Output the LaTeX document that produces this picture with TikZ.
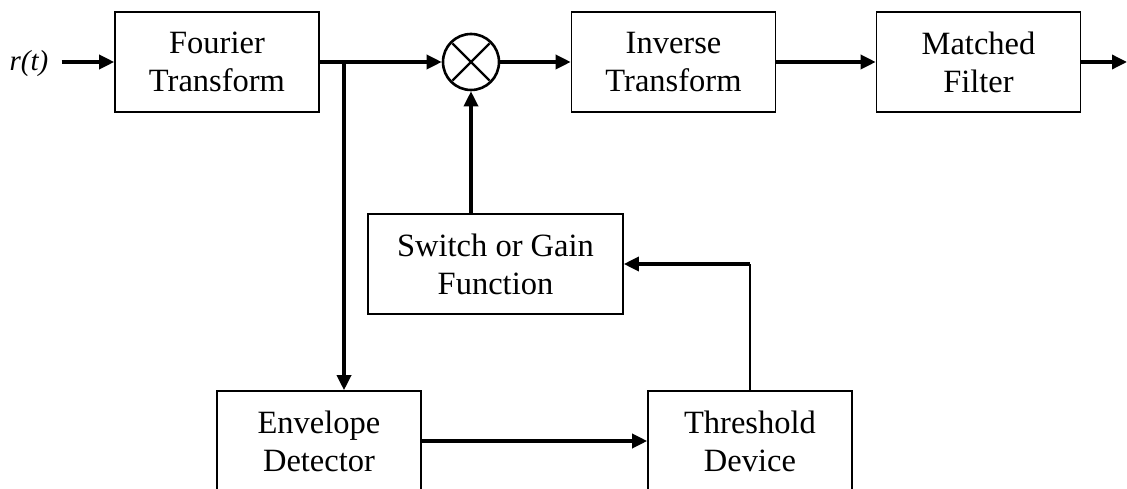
\documentclass[tikz,border=0pt]{standalone}
\usepackage{fontspec}
\setmainfont{Liberation Serif}
\usetikzlibrary{arrows.meta}
\tikzset{
  blk/.style={draw=black, line width=1.6pt, minimum width=204pt, minimum height=100pt,
              align=center, inner sep=0pt, font=\fontsize{32.5}{38}\selectfont},
  flow/.style={-{Triangle[length=15pt,width=14pt]}, line width=3.4pt},
  riser/.style={line width=2pt},
  mixer/.style={circle, draw=black, line width=2.6pt, minimum size=56pt, inner sep=0pt},
  sig/.style={font=\fontsize{29}{34}\selectfont\itshape, inner sep=1pt},
}

\begin{document}
\begin{tikzpicture}[x=1pt,y=1pt]
\useasboundingbox (0,0) rectangle (1127,-489);

% ========================= forward path ==================================
\node[sig]                             at (29,-64)    (rin)       {r(t)};
\node[blk]                             at (217,-62)   (fourier)   {Fourier\\Transform};
\node[mixer]                           at (471,-62)   (mult)      {};
\node[blk]                             at (673.5,-62) (inverse)   {Inverse\\Transform};
\node[blk]                             at (978.5,-62) (matched)   {Matched\\Filter};
\coordinate (split) at (344,-62);
\coordinate (out)   at (1127,-62);

\draw[line width=2.4pt, shorten >=3pt, shorten <=3pt] (mult.45) -- (mult.225);
\draw[line width=2.4pt, shorten >=3pt, shorten <=3pt] (mult.135) -- (mult.315);

\draw[flow, shorten <=12pt] (rin.east |- fourier.west) -- (fourier.west);
\draw[flow] (fourier) -- (mult);
\draw[flow] (mult) -- (inverse);
\draw[flow] (inverse) -- (matched);
\draw[flow] (matched) -- (out);

% ========================= gain control loop =============================
\node[blk, minimum width=255pt]        at (495.5,-264) (switch)    {Switch or Gain\\Function};
\node[blk]                             at (319,-441)   (envelope)  {Envelope\\Detector};
\node[blk]                             at (750,-441)   (threshold) {Threshold\\Device};
\coordinate (bend) at (threshold.north |- switch.east);

\draw[flow] (split) -- (split |- envelope.north);
\draw[flow] (envelope) -- (threshold);
\draw[riser] (threshold.north) -- (bend);
\draw[flow] (bend) -- (switch.east);
\draw[flow] (switch.north -| mult) -- (mult);
\end{tikzpicture}
\end{document}
